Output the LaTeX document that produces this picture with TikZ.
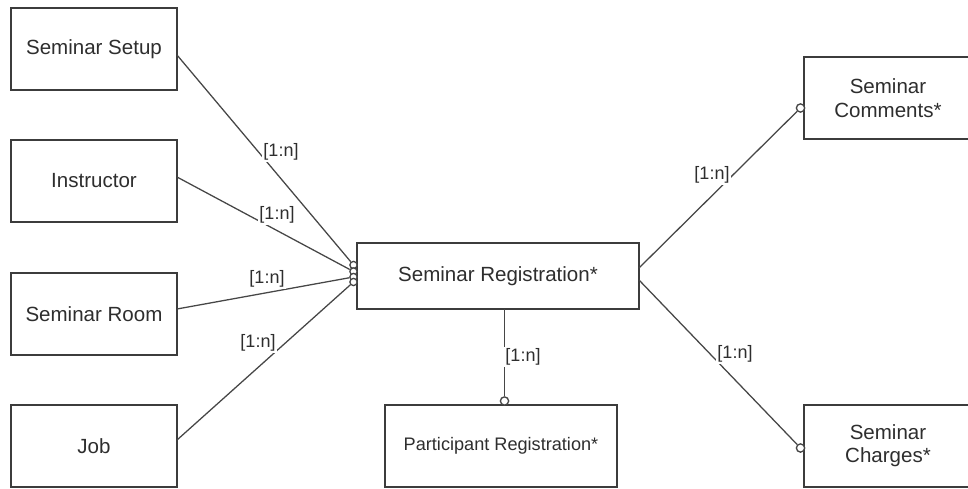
\documentclass[tikz,border=0pt]{standalone}
\usepackage{fontspec}
\setmainfont{Liberation Sans}
\usetikzlibrary{calc}
\definecolor{edgegray}{HTML}{3C3C3C}
\definecolor{linkgray}{HTML}{464646}
\definecolor{inkgray}{HTML}{2E2E2E}
\tikzset{
  entity/.style={draw=edgegray, line width=1.4pt, fill=white, inner sep=0pt, outer sep=0pt,
    align=center, text=inkgray, font=\fontsize{15.4}{17.5}\selectfont},
  leftbox/.style={entity, minimum width=124.5pt, minimum height=61.5pt},
  rightbox/.style={entity, minimum width=126pt, minimum height=61.5pt},
  link/.style={draw=linkgray, line width=0.95pt},
  optend/.style={circle, draw=linkgray, line width=1pt, fill=white, inner sep=0pt, minimum size=5.4pt},
  optendbig/.style={optend, minimum size=6.2pt},
  card/.style={fill=white, inner sep=1pt, text=inkgray, font=\fontsize{13.5}{15}\selectfont}
}
\begin{document}
\begin{tikzpicture}[x=0.75pt,y=-0.75pt]
\useasboundingbox (0,0) rectangle (968,489);
\clip (0,0) rectangle (968,489);
\fill[white] (0,0) rectangle (968,489);

% entities
\node[leftbox] (setup) at (94,49) {Seminar Setup};
\node[leftbox] (instr) at (94,181) {Instructor};
\node[leftbox] (room)  at (94,314) {Seminar Room};
\node[leftbox] (job)   at (94,446) {Job};
\node[entity, minimum width=211.5pt, minimum height=49.5pt] (reg) at (498,276) {Seminar Registration*};
\node[entity, minimum width=174pt, minimum height=61.5pt,
      font=\fontsize{13.6}{15}\selectfont] (part) at (501,446) {Participant Registration*};
\node[rightbox] (comm) at (888,98) {Seminar\\Comments*};
\node[rightbox] (chg)  at (888,446) {Seminar\\Charges*};

% optional-end circles
\node[optend] (e1) at (353.5,265) {};
\node[optend] (e2) at (353.5,271.5) {};
\node[optend] (e3) at (353.5,277) {};
\node[optend] (e4) at (353.5,282) {};
\node[optendbig] (ec) at (800.5,108) {};
\node[optendbig] (eh) at (800.5,448) {};
\node[optendbig] (ep) at (504.5,401) {};

% relationships
\draw[link] ([yshift=-4.5pt]setup.east) -- (e1);
\draw[link] ([yshift=3pt]instr.east) -- (e2);
\draw[link] ([yshift=3.75pt]room.east) -- (e3);
\draw[link] ([yshift=4.5pt]job.east) -- (e4);
\draw[link] ([yshift=6pt]reg.east) -- (ec);
\draw[link] ([yshift=-3pt]reg.east) -- (eh);
\draw[link] (ep) -- (ep |- reg.south);

% cardinalities
\node[card] (l1) at (281,152) {[1:n]};
\node[card] (l2) at (277,215) {[1:n]};
\node[card] (l3) at (267,279) {[1:n]};
\node[card] (l4) at (258,343) {[1:n]};
\node[card] (l5) at (712,175) {[1:n]};
\node[card] (l6) at (735,354) {[1:n]};
\node[card] (l7) at (523,357) {[1:n]};
\end{tikzpicture}
\end{document}
